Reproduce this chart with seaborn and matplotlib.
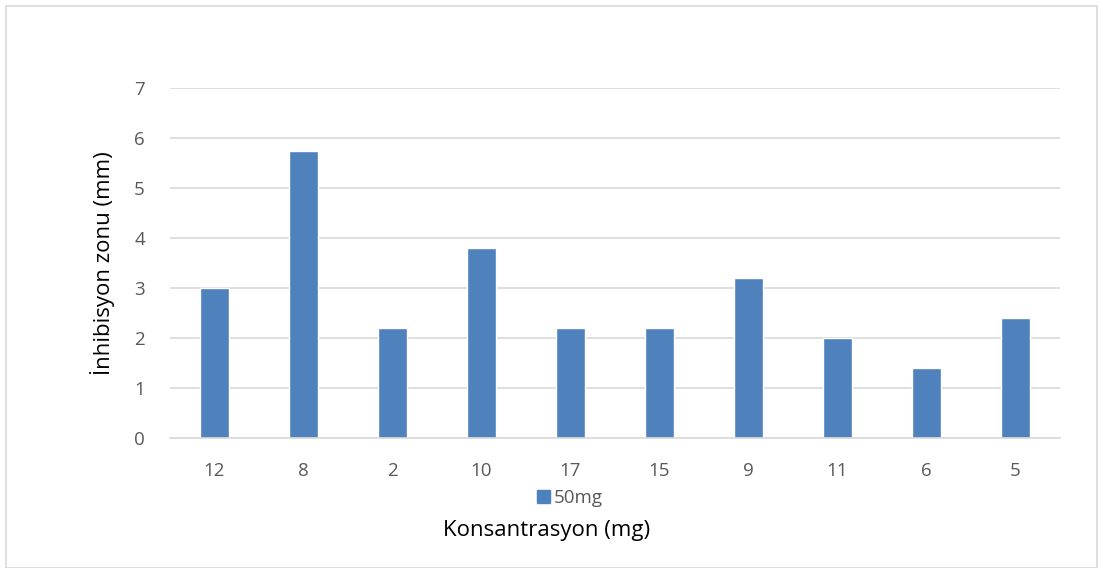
import matplotlib
matplotlib.use("Agg")
import matplotlib.pyplot as plt
import seaborn as sns
import pandas as pd
from matplotlib.patches import Rectangle

categories = ["12", "8", "2", "10", "17", "15", "9", "11", "6", "5"]
values_50mg = [3.0, 5.75, 2.2, 3.8, 2.2, 2.2, 3.2, 2.0, 1.4, 2.4]
series_name = "50mg"

sns.set_theme(style="white")
plt.rcParams["font.family"] = ["Open Sans", "DejaVu Sans"]

df = pd.DataFrame({"Konsantrasyon": categories, "value": values_50mg, "series": series_name})

bar_color = "#4F81BD"
grid_color = "#D9D9D9"
tick_color = "#595959"

fig = plt.figure(figsize=(11.03, 5.68), dpi=100)
ax = fig.add_axes([0.1541, 0.2289, 0.8069, 0.6161])

sns.barplot(data=df, x="Konsantrasyon", y="value", hue="series", order=categories,
            palette=[bar_color], width=0.32, ax=ax, legend=False, saturation=1)

ax.set_ylim(0, 7)
ax.set_xlim(-0.5, len(categories) - 0.5)
ax.set_yticks(range(0, 8))
ax.yaxis.grid(True, color=grid_color, linewidth=1.2)
ax.set_axisbelow(True)
for s in ["top", "right", "left"]:
    ax.spines[s].set_visible(False)
ax.spines["bottom"].set_color(grid_color)
ax.spines["bottom"].set_linewidth(1.2)

ax.tick_params(axis="both", length=0, labelsize=13.5, labelcolor=tick_color)
ax.tick_params(axis="x", pad=17)
ax.tick_params(axis="y", pad=18)

# x label sits under the legend, slightly left of the axes centre
ax.set_xlabel("Konsantrasyon (mg)", fontsize=16, color="black", va="center")
ax.xaxis.set_label_coords(0.4236, -0.264)
ax.set_ylabel("İnhibisyon zonu (mm)", fontsize=16, color="black", labelpad=14)

handle = Rectangle((0, 0), 1, 1, color=bar_color)
fig.legend([handle], [series_name], loc="center", bbox_to_anchor=(0.517, 1 - 498 / 568),
           frameon=False, fontsize=13.5, labelcolor=tick_color, handlelength=0.7,
           handleheight=0.7, handletextpad=0.2)

# thin chart-area border
fig.patches.append(Rectangle((0.005, 0.0), 0.99, 0.99, transform=fig.transFigure,
                             fill=False, edgecolor=grid_color, linewidth=1.2))

fig.savefig("out.png", dpi=100)
